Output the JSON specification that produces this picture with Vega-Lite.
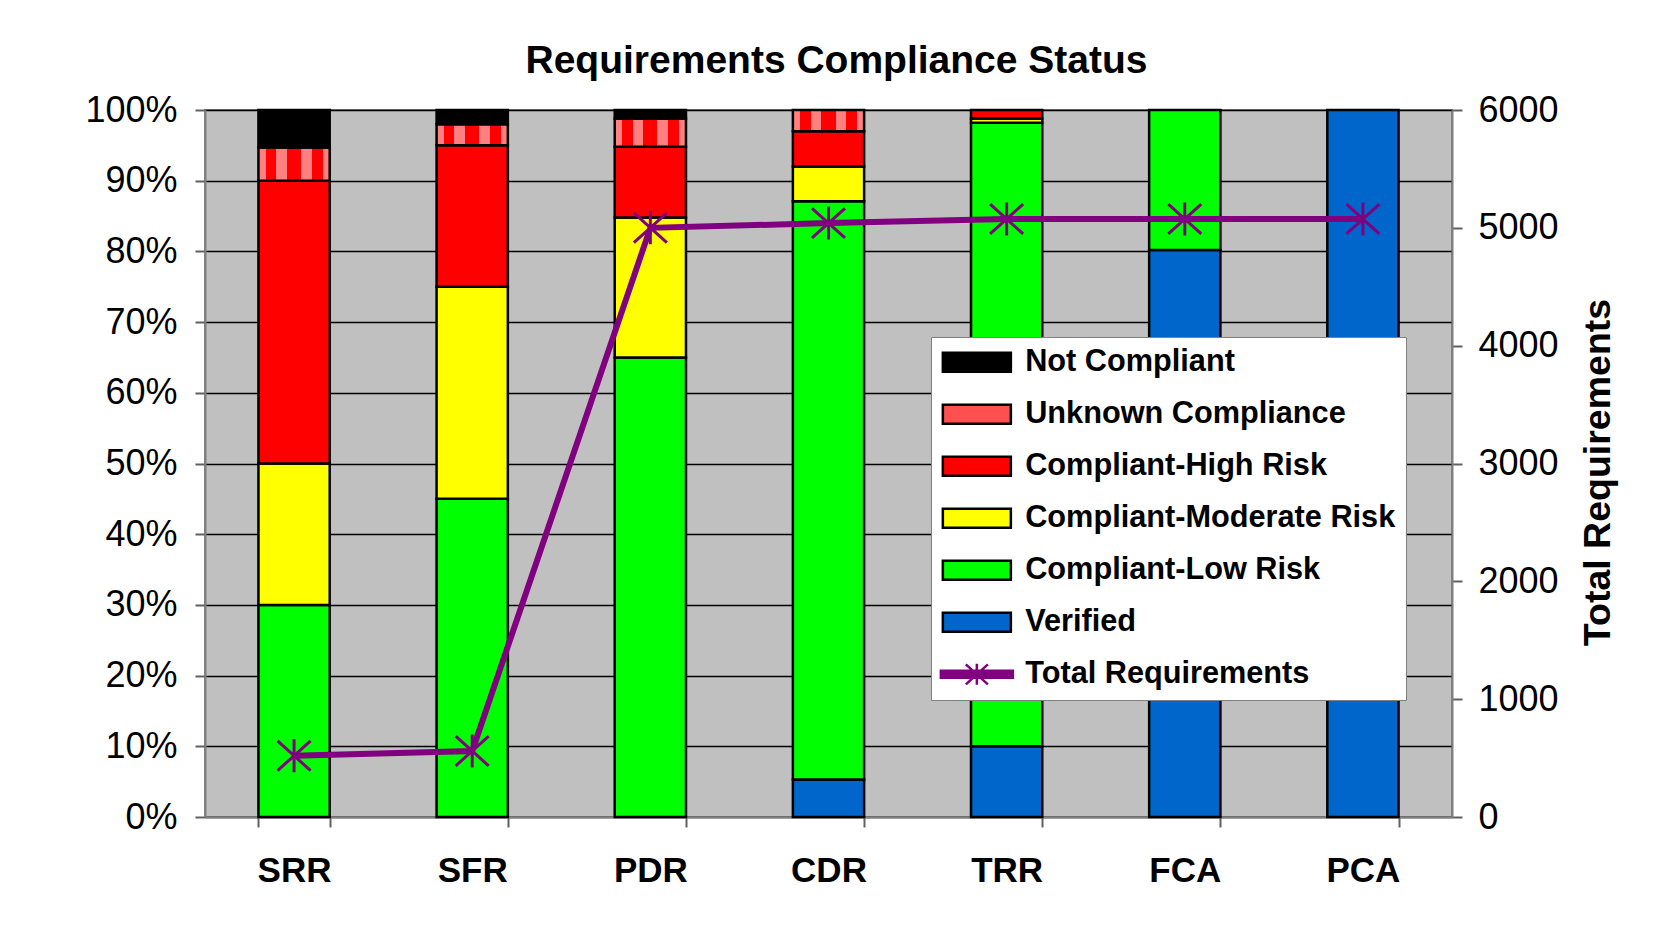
{
  "$schema": "https://vega.github.io/schema/vega-lite/v6.json",
  "width": 1247,
  "height": 707,
  "autosize": {"type": "none"},
  "padding": {"left": 205, "top": 110, "right": 208, "bottom": 109},
  "background": "white",
  "title": {
    "text": "Requirements Compliance Status",
    "font": "Liberation Sans",
    "fontSize": 39,
    "fontWeight": "bold",
    "color": "black",
    "anchor": "middle",
    "baseline": "alphabetic",
    "offset": 38,
    "dy": 58,
    "dx": 8
  },
  "config": {
    "font": "Liberation Sans",
    "view": {"fill": "#c0c0c0", "stroke": "#808080", "strokeWidth": 2}
  },
  "datasets": {
    "status": [
      {"review": "SRR", "status": "Compliant-Low Risk", "share": 0.30},
      {"review": "SRR", "status": "Compliant-Moderate Risk", "share": 0.20},
      {"review": "SRR", "status": "Compliant-High Risk", "share": 0.40},
      {"review": "SRR", "status": "Unknown Compliance", "share": 0.047},
      {"review": "SRR", "status": "Not Compliant", "share": 0.053},
      {"review": "SFR", "status": "Compliant-Low Risk", "share": 0.45},
      {"review": "SFR", "status": "Compliant-Moderate Risk", "share": 0.30},
      {"review": "SFR", "status": "Compliant-High Risk", "share": 0.20},
      {"review": "SFR", "status": "Unknown Compliance", "share": 0.03},
      {"review": "SFR", "status": "Not Compliant", "share": 0.02},
      {"review": "PDR", "status": "Compliant-Low Risk", "share": 0.65},
      {"review": "PDR", "status": "Compliant-Moderate Risk", "share": 0.198},
      {"review": "PDR", "status": "Compliant-High Risk", "share": 0.10},
      {"review": "PDR", "status": "Unknown Compliance", "share": 0.04},
      {"review": "PDR", "status": "Not Compliant", "share": 0.012},
      {"review": "CDR", "status": "Verified", "share": 0.053},
      {"review": "CDR", "status": "Compliant-Low Risk", "share": 0.818},
      {"review": "CDR", "status": "Compliant-Moderate Risk", "share": 0.049},
      {"review": "CDR", "status": "Compliant-High Risk", "share": 0.05},
      {"review": "CDR", "status": "Unknown Compliance", "share": 0.03},
      {"review": "TRR", "status": "Verified", "share": 0.10},
      {"review": "TRR", "status": "Compliant-Low Risk", "share": 0.882},
      {"review": "TRR", "status": "Compliant-Moderate Risk", "share": 0.006},
      {"review": "TRR", "status": "Compliant-High Risk", "share": 0.012},
      {"review": "FCA", "status": "Verified", "share": 0.802},
      {"review": "FCA", "status": "Compliant-Low Risk", "share": 0.198},
      {"review": "PCA", "status": "Verified", "share": 1.0}
    ],
    "totals": [
      {"review": "SRR", "total": 520},
      {"review": "SFR", "total": 560},
      {"review": "PDR", "total": 5000},
      {"review": "CDR", "total": 5040},
      {"review": "TRR", "total": 5075},
      {"review": "FCA", "total": 5075},
      {"review": "PCA", "total": 5075}
    ]
  },
  "layer": [
    {
      "data": {"name": "status"},
      "transform": [
        {"calculate": "indexof(['Verified','Compliant-Low Risk','Compliant-Moderate Risk','Compliant-High Risk','Unknown Compliance','Not Compliant'], datum.status)", "as": "stackOrder"}
      ],
      "mark": {"type": "bar", "stroke": "black", "strokeWidth": 2.5},
      "encoding": {
        "x": {
          "field": "review",
          "type": "nominal",
          "sort": ["SRR", "SFR", "PDR", "CDR", "TRR", "FCA", "PCA"],
          "scale": {"paddingInner": 0.6, "paddingOuter": 0.3},
          "axis": {
            "title": null,
            "labelAngle": 0,
            "labelFont": "Liberation Sans",
            "labelFontSize": 35,
            "labelFontWeight": "bold",
            "labelColor": "black",
            "labelPadding": 26,
            "tickBand": "extent",
            "tickSize": 10,
            "tickColor": "#606060",
            "tickWidth": 2,
            "domainColor": "#808080",
            "domainWidth": 2,
            "grid": false
          }
        },
        "y": {
          "field": "share",
          "type": "quantitative",
          "stack": "zero",
          "scale": {"domain": [0, 1]},
          "axis": {
            "title": null,
            "format": ".0%",
            "values": [0, 0.1, 0.2, 0.3, 0.4, 0.5, 0.6, 0.7, 0.8, 0.9, 1.0],
            "labelFont": "Liberation Sans",
            "labelFontSize": 36,
            "labelColor": "black",
            "labelPadding": 18,
            "tickSize": 10,
            "tickColor": "#606060",
            "tickWidth": 2,
            "domainColor": "#808080",
            "domainWidth": 2,
            "grid": true,
            "gridColor": "#000000",
            "gridWidth": 1.5
          }
        },
        "color": {
          "condition": {
            "test": "datum.status === 'Unknown Compliance'",
            "value": {
              "gradient": "linear",
              "x1": 0, "y1": 0, "x2": 1, "y2": 0,
              "stops": [
                {"offset": 0, "color": "#ff8080"},
                {"offset": 0.1, "color": "#ff8080"},
                {"offset": 0.1, "color": "#ff0000"},
                {"offset": 0.25, "color": "#ff0000"},
                {"offset": 0.25, "color": "#ff8080"},
                {"offset": 0.4, "color": "#ff8080"},
                {"offset": 0.4, "color": "#ff0000"},
                {"offset": 0.6, "color": "#ff0000"},
                {"offset": 0.6, "color": "#ff8080"},
                {"offset": 0.75, "color": "#ff8080"},
                {"offset": 0.75, "color": "#ff0000"},
                {"offset": 0.9, "color": "#ff0000"},
                {"offset": 0.9, "color": "#ff8080"},
                {"offset": 1, "color": "#ff8080"}
              ]
            }
          },
          "field": "status",
          "type": "nominal",
          "scale": {
            "domain": ["Not Compliant", "Unknown Compliance", "Compliant-High Risk", "Compliant-Moderate Risk", "Compliant-Low Risk", "Verified", "Total Requirements"],
            "range": ["#000000", "#ff5050", "#ff0000", "#ffff00", "#00ff00", "#0066cc", "#800080"]
          },
          "legend": {
            "title": null,
            "orient": "none",
            "legendX": 726,
            "legendY": 227,
            "padding": 10,
            "fillColor": "white",
            "strokeColor": "#808080",
            "symbolType": "M-3.4,-0.95H3.4V0.95H-3.4Z",
            "symbolSize": 400,
            "symbolOffset": 20.5,
            "symbolStrokeColor": "black",
            "symbolStrokeWidth": 2.5,
            "symbolOpacity": 1,
            "labelFont": "Liberation Sans",
            "labelFontSize": 30.7,
            "labelFontWeight": "bold",
            "labelColor": "black",
            "labelOffset": 33,
            "labelLimit": 0,
            "rowPadding": 20,
            "encode": {
              "symbols": {
                "update": {
                  "shape": {"signal": "datum.value === 'Total Requirements' ? 'M-3.6,-0.35H3.6V0.35H-3.6Z M0,-1.05V1.05 M-1.1,-1L1.1,1 M-1.1,1L1.1,-1' : 'M-3.4,-0.95H3.4V0.95H-3.4Z'"},
                  "stroke": {"signal": "datum.value === 'Total Requirements' ? '#800080' : 'black'"}
                }
              }
            }
          }
        },
        "order": {"field": "stackOrder", "type": "quantitative"}
      }
    },
    {
      "data": {"name": "totals"},
      "encoding": {
        "x": {"field": "review", "type": "nominal", "sort": ["SRR", "SFR", "PDR", "CDR", "TRR", "FCA", "PCA"]},
        "y": {
          "field": "total",
          "type": "quantitative",
          "scale": {"domain": [0, 6000]},
          "axis": {
            "orient": "right",
            "title": "Total Requirements",
            "titleFont": "Liberation Sans",
            "titleFontSize": 37.5,
            "titleFontWeight": "bold",
            "titleColor": "black",
            "titleAngle": 270,
            "titleBaseline": "top",
            "titlePadding": 21,
            "titleY": 362,
            "values": [0, 1000, 2000, 3000, 4000, 5000, 6000],
            "format": "d",
            "labelFont": "Liberation Sans",
            "labelFontSize": 36,
            "labelColor": "black",
            "labelPadding": 16,
            "tickSize": 10,
            "tickColor": "#606060",
            "tickWidth": 2,
            "domainColor": "#808080",
            "domainWidth": 2,
            "grid": false
          }
        }
      },
      "layer": [
        {"mark": {"type": "line", "color": "#800080", "strokeWidth": 6}},
        {"mark": {"type": "point", "shape": "M0,-1V1M-1,-0.9L1,0.9M-1,0.9L1,-0.9", "size": 1089, "filled": false, "stroke": "#800080", "strokeWidth": 3, "opacity": 1}}
      ]
    }
  ],
  "resolve": {"scale": {"y": "independent"}}
}
